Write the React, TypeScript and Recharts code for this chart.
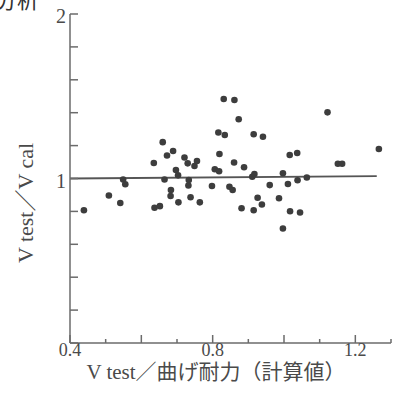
import React from "react";
import { ScatterChart, Scatter, XAxis, YAxis, ReferenceLine } from "recharts";

// Vtest / bending capacity (calc.) vs Vtest / Vcal
const xValues = [
  0.439, 0.509, 0.541, 0.549, 0.555, 0.635, 0.66, 0.672, 0.689, 0.665,
  0.637, 0.652, 0.683, 0.682, 0.704, 0.697, 0.703, 0.721, 0.73, 0.749,
  0.756, 0.733, 0.732, 0.738, 0.764, 0.798, 0.806, 0.818, 0.816, 0.819,
  0.831, 0.861, 0.873, 0.834, 0.86, 0.888, 0.847, 0.856, 0.881, 0.915,
  0.926, 0.938, 0.915, 0.941, 0.911, 0.917, 0.96, 0.986, 0.997, 0.997,
  1.011, 1.016, 1.037, 1.038, 1.064, 1.017, 1.045, 1.122, 1.151, 1.163,
  1.266,
];
const yValues = [
  0.807, 0.897, 0.851, 0.994, 0.965, 1.094, 1.221, 1.14, 1.167, 0.994,
  0.822, 0.832, 0.93, 0.894, 0.855, 1.052, 1.019, 1.128, 1.092, 1.076,
  1.106, 0.991, 0.957, 0.886, 0.855, 0.954, 1.056, 1.044, 1.28, 1.149,
  1.483, 1.477, 1.36, 1.264, 1.097, 1.068, 0.95, 0.93, 0.819, 0.807,
  0.883, 0.842, 1.269, 1.254, 1.011, 1.027, 0.96, 0.88, 1.032, 0.696,
  0.967, 1.143, 1.155, 0.989, 1.006, 0.801, 0.793, 1.402, 1.09, 1.09,
  1.179,
];

// fitted line end points
const fitX = [0.4, 1.26];
const fitY = [1.0, 1.015];

const xTicks = [0.4, 0.5, 0.6, 0.7, 0.8, 0.9, 1.0, 1.1, 1.2, 1.3];
const xTickLabels = ["0.4", "0.8", "1.2"];
const yTicks = [0, 0.2, 0.4, 0.6, 0.8, 1, 1.2, 1.4, 1.6, 1.8, 2];
const yTickLabels = ["1", "2"];

const points = xValues.map((x, i) => ({ x, y: yValues[i] }));

const AXIS = "#6b6b6b";
const TEXT = "#4a4a4a";
const DOT = "#3d3d3d";
const SERIF = "'Liberation Serif', 'DejaVu Serif', 'Noto Sans CJK JP', serif";

function XTick({ x, y, payload }: any) {
  const v = payload.value;
  const major = Math.round(v * 10) % 2 === 0;
  const label = xTickLabels.includes(String(v));
  return (
    <g>
      <line x1={x} y1={y} x2={x} y2={y - (major ? 8 : 4)} stroke={AXIS} strokeWidth={1.5} />
      {label && (
        <text x={x} y={y + 13} textAnchor="middle" fontSize={18} fill={TEXT} fontFamily={SERIF}>
          {String(v)}
        </text>
      )}
    </g>
  );
}

function YTick({ x, y, payload }: any) {
  const v = payload.value;
  const label = yTickLabels.includes(String(v));
  return (
    <g>
      <line x1={x} y1={y} x2={x + 8} y2={y} stroke={AXIS} strokeWidth={1.5} />
      {label && (
        <text x={x - 4} y={y + 9} textAnchor="end" fontSize={20} fill={TEXT} fontFamily={SERIF}>
          {String(v)}
        </text>
      )}
    </g>
  );
}

const Dot = (props: any) => <circle cx={props.cx} cy={props.cy} r={3.3} fill={DOT} />;

export default function App() {
  return (
    <div style={{ position: "absolute", left: 0, top: 0, width: 397, height: 396, overflow: "hidden", background: "#fff" }}>
      <ScatterChart width={397} height={396} margin={{ top: 14, right: 6, bottom: 0, left: 0 }}>
        <XAxis
          type="number"
          dataKey="x"
          domain={[0.4, 1.3]}
          ticks={xTicks}
          interval={0}
          height={53}
          tickSize={0}
          tickMargin={0}
          tickLine={false}
          tick={<XTick />}
          axisLine={{ stroke: AXIS, strokeWidth: 1.5 }}
          label={{
            content: () => (
              <text x={216} y={379} textAnchor="middle" fontSize={21} fill={TEXT} fontFamily={SERIF}>
                V test／曲げ耐力（計算値）
              </text>
            ),
          }}
        />
        <YAxis
          type="number"
          dataKey="y"
          domain={[0, 2]}
          ticks={yTicks}
          interval={0}
          width={70}
          tickSize={0}
          tickMargin={0}
          tickLine={false}
          tick={<YTick />}
          axisLine={{ stroke: AXIS, strokeWidth: 1.5 }}
          label={{
            content: () => (
              <text
                x={33}
                y={203}
                transform="rotate(-90 33 203)"
                textAnchor="middle"
                fontSize={22}
                fill={TEXT}
                fontFamily={SERIF}
              >
                V test／V cal
              </text>
            ),
          }}
        />
        <ReferenceLine
          segment={[
            { x: fitX[0], y: fitY[0] },
            { x: fitX[1], y: fitY[1] },
          ]}
          stroke="#555"
          strokeWidth={1.8}
        />
        <Scatter data={points} shape={Dot} isAnimationActive={false} />
      </ScatterChart>
      <div
        style={{
          position: "absolute",
          left: -5,
          top: -15,
          fontSize: 22,
          lineHeight: "26px",
          color: "#333",
          fontFamily: "'Noto Sans CJK JP', sans-serif",
        }}
      >
        分析
      </div>
    </div>
  );
}
